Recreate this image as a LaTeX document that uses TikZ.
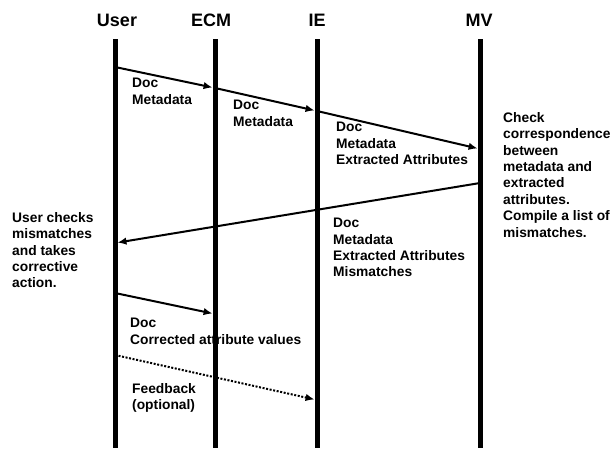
\documentclass[tikz,border=0pt]{standalone}
\usepackage{fontspec}
\setmainfont{Liberation Sans}
\usetikzlibrary{arrows.meta}
\begin{document}
\begin{tikzpicture}[x=1pt,y=-1pt,
  header/.style={font=\fontsize{18}{20}\selectfont\bfseries, inner sep=0pt},
  lifeline/.style={line width=5pt},
  msg/.style={line width=2pt, -{Latex[length=9pt,width=7.5pt]}, shorten >=2.5pt},
  optmsg/.style={msg, dash pattern=on 2pt off 1.6pt},
  msglabel/.style={font=\fontsize{13.8}{16.4}\selectfont\bfseries, align=left,
    anchor=north west, inner sep=0pt}]
\useasboundingbox (0,0) rectangle (612,448);

% participants
\node[header] (hUser) at (117,20) {User};
\node[header] (hECM)  at (211,20) {ECM};
\node[header] (hIE)   at (317,20) {IE};
\node[header] (hMV)   at (479,20) {MV};

% messages along the lifelines
\coordinate (u1) at (115,67);   \coordinate (e1) at (215,88);
\coordinate (e2) at (215,88);   \coordinate (i2) at (317,111);
\coordinate (i3) at (317,111);  \coordinate (m3) at (480,149);
\coordinate (m4) at (480,183);  \coordinate (u4) at (115,243);
\coordinate (u5) at (115,293);  \coordinate (e5) at (215,314);
\coordinate (u6) at (115,355);  \coordinate (i6) at (317,400);

\draw[msg] (u1) -- (e1);
\draw[msg] (e2) -- (i2);
\draw[msg] (i3) -- (m3);
\draw[msg] (m4) -- (u4);
\draw[msg] (u5) -- (e5);
\draw[optmsg] (u6) -- (i6);

% lifelines
\coordinate (uTop) at (115,39);  \coordinate (uBot) at (115,448);
\coordinate (eTop) at (215,39);  \coordinate (eBot) at (215,448);
\coordinate (iTop) at (317,39);  \coordinate (iBot) at (317,448);
\coordinate (mTop) at (480,39);  \coordinate (mBot) at (480,448);
\draw[lifeline] (uTop) -- (uBot);
\draw[lifeline] (eTop) -- (eBot);
\draw[lifeline] (iTop) -- (iBot);
\draw[lifeline] (mTop) -- (mBot);

% message labels
\node[msglabel] (l1) at (132,78)  {Doc\\Metadata};
\node[msglabel] (l2) at (233,100) {Doc\\Metadata};
\node[msglabel] (l3) at (336,122) {Doc\\Metadata\\Extracted Attributes};
\node[msglabel] (l4) at (333,218) {Doc\\Metadata\\Extracted Attributes\\Mismatches};
\node[msglabel] (l5) at (130,318) {Doc\\Corrected attribute values};
\node[msglabel] (l6) at (132,383) {Feedback\\(optional)};

% notes
\node[msglabel] (nUser) at (12,212) {User checks\\mismatches\\and takes\\corrective\\action.};
\node[msglabel] (nMV) at (503,112) {Check\\correspondence\\between\\metadata and\\extracted\\attributes.\\Compile a list of\\mismatches.};
\end{tikzpicture}
\end{document}
